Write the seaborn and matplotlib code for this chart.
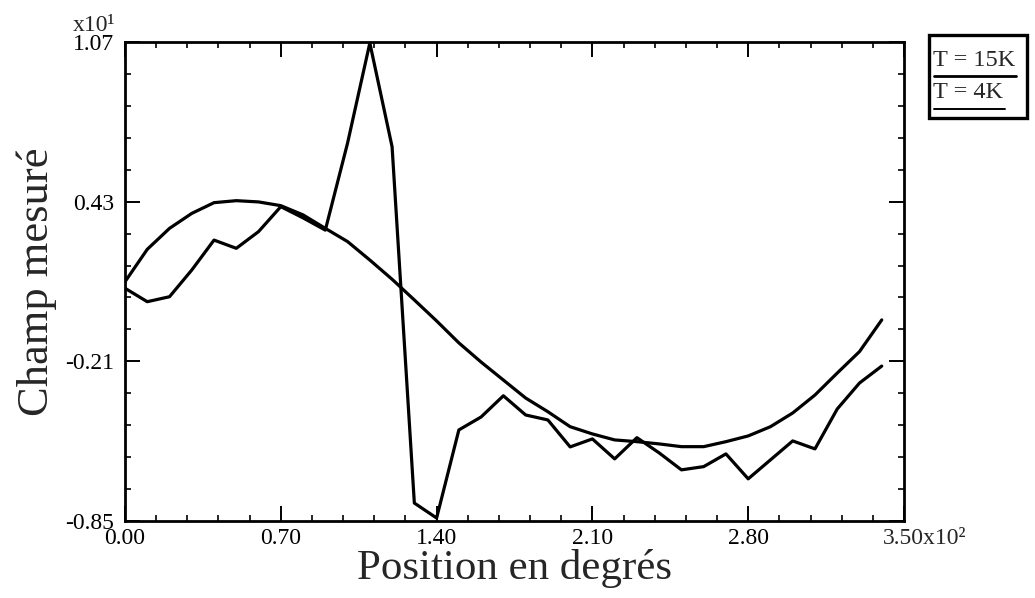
import matplotlib
matplotlib.use("Agg")
import numpy as np
import pandas as pd
import matplotlib.pyplot as plt
import seaborn as sns
from matplotlib.lines import Line2D
from matplotlib.patches import Rectangle
from matplotlib.ticker import FixedLocator

# Position (x10^2 degrees)
positions = [0.0, 0.1, 0.2, 0.3, 0.4, 0.5, 0.6, 0.7, 0.8, 0.9,
             1.0, 1.1, 1.2, 1.3, 1.4, 1.5, 1.6, 1.7, 1.8, 1.9,
             2.0, 2.1, 2.2, 2.3, 2.4, 2.5, 2.6, 2.7, 2.8, 2.9,
             3.0, 3.1, 3.2, 3.3, 3.4]

# Measured field (x10^1)
champ_15k = [0.109, 0.239, 0.323, 0.383, 0.426, 0.434, 0.429, 0.414, 0.377, 0.323,
             0.270, 0.196, 0.119, 0.036, -0.048, -0.136, -0.213, -0.285, -0.357, -0.412,
             -0.472, -0.501, -0.525, -0.532, -0.541, -0.552, -0.552, -0.532, -0.509, -0.472,
             -0.417, -0.345, -0.257, -0.171, -0.044]

champ_4k = [0.083, 0.029, 0.049, 0.156, 0.276, 0.243, 0.310, 0.410, 0.365, 0.316,
            0.665, 1.066, 0.650, -0.778, -0.838, -0.485, -0.433, -0.348, -0.425, -0.445,
            -0.553, -0.521, -0.601, -0.516, -0.577, -0.645, -0.632, -0.581, -0.681, -0.605,
            -0.529, -0.561, -0.401, -0.297, -0.229]

series_labels = ["T = 15K", "T = 4K"]

x_ticks = [0.0, 0.7, 1.4, 2.1, 2.8, 3.5]
x_ticklabels = ["0.00", "0.70", "1.40", "2.10", "2.80", ""]
y_ticks = [-0.85, -0.21, 0.43, 1.07]
y_ticklabels = ["-0.85", "-0.21", "0.43", "1.07"]

sns.set_style("ticks")
plt.rcParams["font.family"] = ["Liberation Serif", "DejaVu Serif"]

W, H = 1035, 598
fig = plt.figure(figsize=(W / 100, H / 100), dpi=100)
fig.patch.set_facecolor("white")
ax = fig.add_axes([125 / W, 1 - 521 / H, (904 - 125) / W, (521 - 42) / H])
ax.set_facecolor("white")

df = pd.DataFrame({
    "position": positions * 2,
    "champ": champ_15k + champ_4k,
    "serie": [series_labels[0]] * len(positions) + [series_labels[1]] * len(positions),
})

sns.lineplot(data=df, x="position", y="champ", hue="serie",
             palette={series_labels[0]: "black", series_labels[1]: "black"},
             sort=False, estimator=None, legend=False, linewidth=2.3, ax=ax)

ax.set_xlim(0, 3.5)
ax.set_ylim(-0.85, 1.07)

ax.xaxis.set_major_locator(FixedLocator(x_ticks))
ax.set_xticklabels(x_ticklabels)
ax.xaxis.set_minor_locator(FixedLocator([i * 0.14 for i in range(26)]))
ax.yaxis.set_major_locator(FixedLocator(y_ticks))
ax.set_yticklabels(y_ticklabels)
ax.yaxis.set_minor_locator(FixedLocator([-0.85 + i * 0.128 for i in range(16)]))

ax.tick_params(which="both", direction="in", top=True, right=True, colors="black")
ax.tick_params(which="major", length=11, width=1.4, labelsize=17)
ax.tick_params(which="minor", length=4, width=1.2)
ax.tick_params(axis="x", which="major", pad=5)
ax.tick_params(axis="y", which="major", pad=8)

for side in ["left", "right", "top", "bottom"]:
    ax.spines[side].set_visible(True)
    ax.spines[side].set_linewidth(2.0)
    ax.spines[side].set_color("black")

ax.set_xlabel("Position en degrés", fontsize=31, labelpad=0)
ax.set_ylabel("Champ mesuré", fontsize=32, labelpad=6)

# Scale factors
ax.annotate("x10¹", xy=(0, 1), xycoords="axes fraction", xytext=(-10, 11),
            textcoords="offset pixels", ha="right", va="baseline", fontsize=17)
ax.annotate("3.50x10²", xy=(1, 0), xycoords="axes fraction", xytext=(-21, -7),
            textcoords="offset pixels", ha="left", va="top", fontsize=17)

# Legend box
def fx(px):
    return px / W

def fy(py):
    return 1 - py / H

fig.add_artist(Rectangle((fx(929), fy(118)), fx(1027) - fx(929), fy(35) - fy(118),
                         transform=fig.transFigure, fill=False, edgecolor="black", linewidth=2.4))
fig.text(fx(933), fy(61), series_labels[0], ha="left", va="center", fontsize=17.5)
fig.add_artist(Line2D([fx(934), fx(1016)], [fy(76), fy(76)], transform=fig.transFigure,
                      color="black", linewidth=2.0))
fig.text(fx(933), fy(92), series_labels[1], ha="left", va="center", fontsize=17.5)
fig.add_artist(Line2D([fx(934), fx(1005)], [fy(109), fy(109)], transform=fig.transFigure,
                      color="black", linewidth=1.4))

fig.savefig("out.png", dpi=100, facecolor="white")
